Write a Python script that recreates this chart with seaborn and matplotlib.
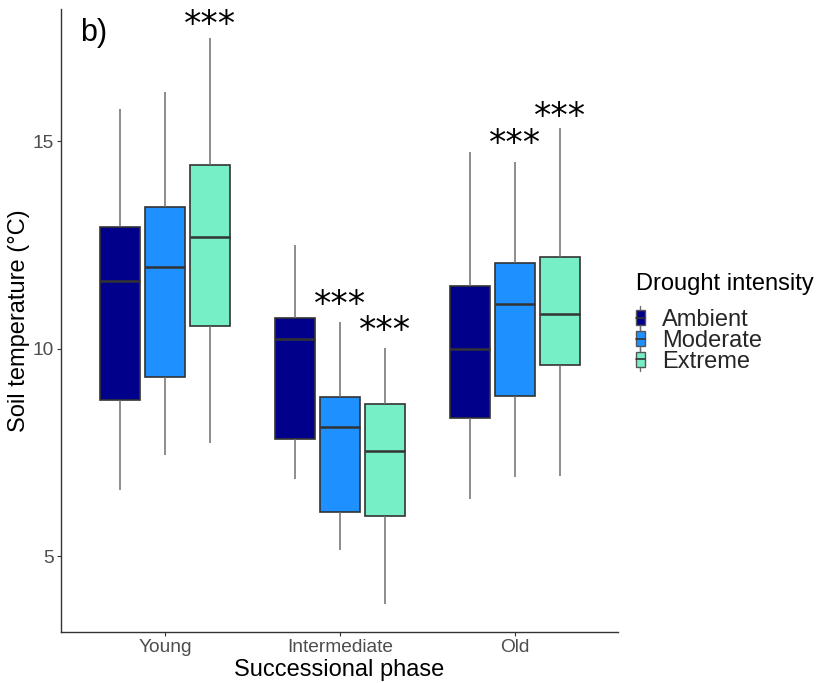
import numpy as np
import pandas as pd
import seaborn as sns
import matplotlib
matplotlib.use("Agg")
import matplotlib.pyplot as plt
from matplotlib.patches import Patch, Rectangle
from matplotlib.lines import Line2D
from matplotlib.legend_handler import HandlerBase

phases = ["Young", "Intermediate", "Old"]
intensities = ["Ambient", "Moderate", "Extreme"]
colors = ["#00008B", "#1E90FF", "#76EEC6"]

# five-number summaries: [min, Q1, median, Q3, max]
ambient = [[6.60, 8.77, 11.63, 12.94, 15.78],
           [6.87, 7.83, 10.24, 10.75, 12.51],
           [6.39, 8.34, 10.00, 11.52, 14.75]]
moderate = [[7.45, 9.33, 11.98, 13.42, 16.19],
            [5.16, 6.07, 8.12, 8.84, 10.65],
            [6.92, 8.87, 11.08, 12.07, 14.51]]
extreme = [[7.73, 10.55, 12.70, 14.43, 17.49],
           [3.86, 5.98, 7.54, 8.67, 10.02],
           [6.94, 9.61, 10.84, 12.22, 15.33]]

# significance labels: (phase, intensity, label, label height in °C)
sig_phase = ["Young", "Intermediate", "Intermediate", "Old", "Old"]
sig_intensity = ["Extreme", "Moderate", "Extreme", "Moderate", "Extreme"]
sig_label = ["***", "***", "***", "***", "***"]
sig_y = [17.98, 11.23, 10.61, 15.10, 15.76]

rows = []
for inten, series in zip(intensities, [ambient, moderate, extreme]):
    for ph, vals in zip(phases, series):
        for v in vals:
            rows.append({"phase": ph, "intensity": inten, "temp": v})
df = pd.DataFrame(rows)

sns.set_theme(style="white")
plt.rcParams["font.family"] = ["Liberation Sans", "DejaVu Sans"]

fig = plt.figure(figsize=(8.17, 6.83), dpi=100)
ax = fig.add_axes([61/817, 1-632/683, (618-61)/817, (632-9)/683])

sns.boxplot(data=df, x="phase", y="temp", hue="intensity", order=phases,
            hue_order=intensities, palette=colors, whis=np.inf,
            width=0.77, gap=0.1, linewidth=1.2, linecolor="#333333",
            saturation=1, ax=ax, legend=False,
            whiskerprops=dict(color="#6e6e6e", linewidth=1.1),
            capprops=dict(linewidth=0),
            medianprops=dict(color="#333333", linewidth=1.8))

slot = 0.77 / 3
for ph, inten, lab, yv in zip(sig_phase, sig_intensity, sig_label, sig_y):
    x = phases.index(ph) + (intensities.index(inten) - 1) * slot
    ax.annotate(lab, xy=(x, yv), xytext=(0, -12.2),
                textcoords="offset points", ha="center", va="baseline",
                fontsize=25, color="black", family="DejaVu Sans")

ax.set_xlim(-0.594, 2.589)
ax.set_ylim(3.18, 18.19)
ax.set_yticks([5, 10, 15])
ax.set_xlabel("Successional phase", fontsize=17, color="black", labelpad=2)
ax.set_ylabel("Soil temperature (°C)", fontsize=17, color="black", labelpad=2)
ax.tick_params(axis="both", which="both", length=3, width=0.8, color="#333333",
               labelsize=13.8, labelcolor="#4D4D4D", left=True, bottom=True, pad=2)
for s in ["top", "right"]:
    ax.spines[s].set_visible(False)
for s in ["left", "bottom"]:
    ax.spines[s].set_color("#333333")
    ax.spines[s].set_linewidth(1.0)

ax.text(0.035, 0.985, "b)", transform=ax.transAxes, fontsize=22,
        ha="left", va="top", color="black")


class BoxKeyHandler(HandlerBase):
    def create_artists(self, legend, orig_handle, xdescent, ydescent,
                       width, height, fontsize, trans):
        cx = width / 2 - xdescent
        bw = width * 0.75
        y0 = -ydescent
        wl = Line2D([cx, cx], [y0 - 0.25 * height, y0 + 1.25 * height],
                    color="#6e6e6e", linewidth=1.0, transform=trans)
        rect = Rectangle((cx - bw / 2, y0), bw, height,
                         facecolor=orig_handle.get_facecolor(),
                         edgecolor="#555555", linewidth=1.0, transform=trans)
        med = Line2D([cx - bw / 2, cx + bw / 2], [y0 + height / 2] * 2,
                     color="#333333", linewidth=1.2, transform=trans)
        return [wl, rect, med]


handles = [Patch(facecolor=c, edgecolor="#555555") for c in colors]
fig.text(636/817, 1-284/683, "Drought intensity", fontsize=17,
         ha="left", va="center", color="black")
leg = fig.legend(handles, intensities, handler_map={Patch: BoxKeyHandler()},
                 loc="upper left", bbox_to_anchor=(634/817, 1-309/683),
                 frameon=False, fontsize=17,
                 handlelength=0.55, handleheight=0.62, handletextpad=0.65,
                 labelspacing=-0.05, borderaxespad=0, borderpad=0)

fig.savefig("out.png", dpi=100)
